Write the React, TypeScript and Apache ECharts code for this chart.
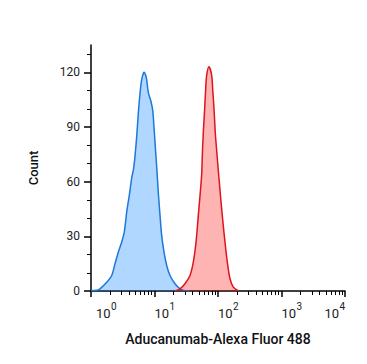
import React, { useEffect, useRef } from "react";
import * as echarts from "echarts";

// x values are log10 of fluorescence intensity (decades), y values are event counts
const blueLogX = [0, 0.09, 0.142, 0.247, 0.326, 0.378, 0.43, 0.483, 0.524, 0.562, 0.603, 0.641, 0.67, 0.693, 0.72, 0.745, 0.772, 0.798, 0.825, 0.839, 0.86, 0.877, 0.902, 0.945, 0.972, 0.992, 1.013, 1.035, 1.06, 1.087, 1.113, 1.15, 1.192, 1.244, 1.323, 1.402, 1.48, 1.55];
const blueCount = [0.3, 0.4, 1.2, 4.8, 8.5, 15, 21.3, 26.8, 32.3, 43.3, 52.5, 62, 67, 74, 85, 97.5, 108.5, 116, 119.5, 120, 118.5, 116, 109, 104, 99, 90, 79, 68, 54, 41.5, 30.5, 21.3, 14, 8.5, 4, 1.2, 0.2, 0];

const redLogX = [1.323, 1.402, 1.48, 1.559, 1.611, 1.654, 1.69, 1.717, 1.743, 1.753, 1.769, 1.79, 1.806, 1.822, 1.858, 1.9, 1.916, 1.937, 1.957, 1.984, 2.005, 2.03, 2.055, 2.08, 2.11, 2.147, 2.189, 2.241, 2.32];
const redCount = [0, 1.2, 4, 8.5, 15.8, 26.8, 41.5, 52.5, 64, 74.5, 87.3, 100, 111, 118.5, 123, 118.5, 111, 100, 87, 75, 66, 56, 46, 37, 26.8, 15.8, 6.7, 2.1, 0];

const xDecades = [0, 1, 2, 3, 4];
const yMajorTicks = [0, 30, 60, 90, 120];
const yMinorTicks = [10, 20, 40, 50, 70, 80, 100, 110, 130];
const xMinorMultipliers = [2, 3, 4, 5, 6, 7, 8, 9];

const xTitle = "Aducanumab-Alexa Fluor 488";
const yTitle = "Count";

export default function App() {
  const ref = useRef<HTMLDivElement>(null);
  useEffect(() => {
    if (!ref.current) return;
    const chart = echarts.init(ref.current, null, { renderer: "svg" });
    const xMinor: number[] = [];
    for (let d = 0; d < 4; d++) {
      for (const m of xMinorMultipliers) xMinor.push(d + Math.log10(m));
    }
    const font = "Roboto";
    chart.setOption({
      animation: false,
      grid: { left: 91, right: 22, top: 45, bottom: 73 },
      xAxis: [
        {
          type: "value",
          min: 0,
          max: 4,
          interval: 1,
          name: xTitle,
          nameLocation: "middle",
          nameGap: 41,
          nameTextStyle: { fontFamily: font, fontSize: 14, fontWeight: 500, color: "#111" },
          axisLine: { show: true, lineStyle: { color: "#000", width: 1.5 } },
          axisTick: { show: true, length: 6, lineStyle: { color: "#000", width: 1.5 } },
          splitLine: { show: false },
          axisLabel: {
            customValues: xDecades,
            margin: 14,
            align: "left",
            alignMaxLabel: "right",
            formatter: (v: number) =>
              v === 0 ? "{f|10}" : v === 4 ? "{g|10}" : "{b|10}",
            rich: {
              b: { fontFamily: font, fontSize: 13, color: "#222", lineHeight: 16 },
              f: { fontFamily: font, fontSize: 13, color: "#222", lineHeight: 16, padding: [0, 0, 0, 5] },
              g: { fontFamily: font, fontSize: 13, color: "#222", lineHeight: 16, padding: [0, 6, 0, 0] },
            },
          },
        },
        {
          type: "value",
          min: 0,
          max: 4,
          position: "bottom",
          axisLine: { show: false },
          splitLine: { show: false },
          axisTick: { show: true, length: 4, customValues: xMinor, lineStyle: { color: "#000", width: 1 } },
          axisLabel: {
            customValues: xDecades,
            margin: 9,
            align: "left",
            alignMaxLabel: "right",
            formatter: (v: number) =>
              v === 0 ? `{f|${v}}` : v === 4 ? `{g|${v}}` : `{b|${v}}`,
            rich: {
              b: { fontFamily: font, fontSize: 10, color: "#222", lineHeight: 12, padding: [0, 0, 0, 15] },
              f: { fontFamily: font, fontSize: 10, color: "#222", lineHeight: 12, padding: [0, 0, 0, 20] },
              g: { fontFamily: font, fontSize: 10, color: "#222", lineHeight: 12 },
            },
          },
        },
      ],
      yAxis: [
        {
          type: "value",
          min: 0,
          max: 135,
          name: yTitle,
          nameLocation: "middle",
          nameGap: 51,
          nameTextStyle: { fontFamily: font, fontSize: 13, fontWeight: 500, color: "#111" },
          axisLine: { show: true, lineStyle: { color: "#000", width: 1.5 } },
          axisTick: { show: true, length: 7, customValues: yMajorTicks, lineStyle: { color: "#000", width: 1.5 } },
          axisLabel: { customValues: yMajorTicks, margin: 11, fontFamily: font, fontSize: 12, color: "#222" },
          splitLine: { show: false },
        },
        {
          type: "value",
          min: 0,
          max: 135,
          position: "left",
          axisLine: { show: false },
          axisLabel: { show: false },
          splitLine: { show: false },
          axisTick: { show: true, length: 4, customValues: yMinorTicks, lineStyle: { color: "#000", width: 1 } },
        },
      ],
      series: [
        {
          type: "line",
          xAxisIndex: 0,
          yAxisIndex: 0,
          data: blueLogX.map((x, i) => [x, blueCount[i]]),
          smooth: 0.3,
          showSymbol: false,
          lineStyle: { color: "#1e78d7", width: 1.5 },
          areaStyle: { color: "rgba(0,128,255,0.45)" },
          z: 2,
        },
        {
          type: "line",
          xAxisIndex: 0,
          yAxisIndex: 0,
          data: redLogX.map((x, i) => [x, redCount[i]]),
          smooth: 0.3,
          showSymbol: false,
          lineStyle: { color: "#dc141e", width: 1.5 },
          areaStyle: { color: "rgba(255,0,0,0.42)" },
          z: 3,
        },
      ],
    });
    return () => chart.dispose();
  }, []);
  return (
    <div
      ref={ref}
      style={{ position: "fixed", left: 0, top: 0, width: 367, height: 364, background: "#fff" }}
    />
  );
}
